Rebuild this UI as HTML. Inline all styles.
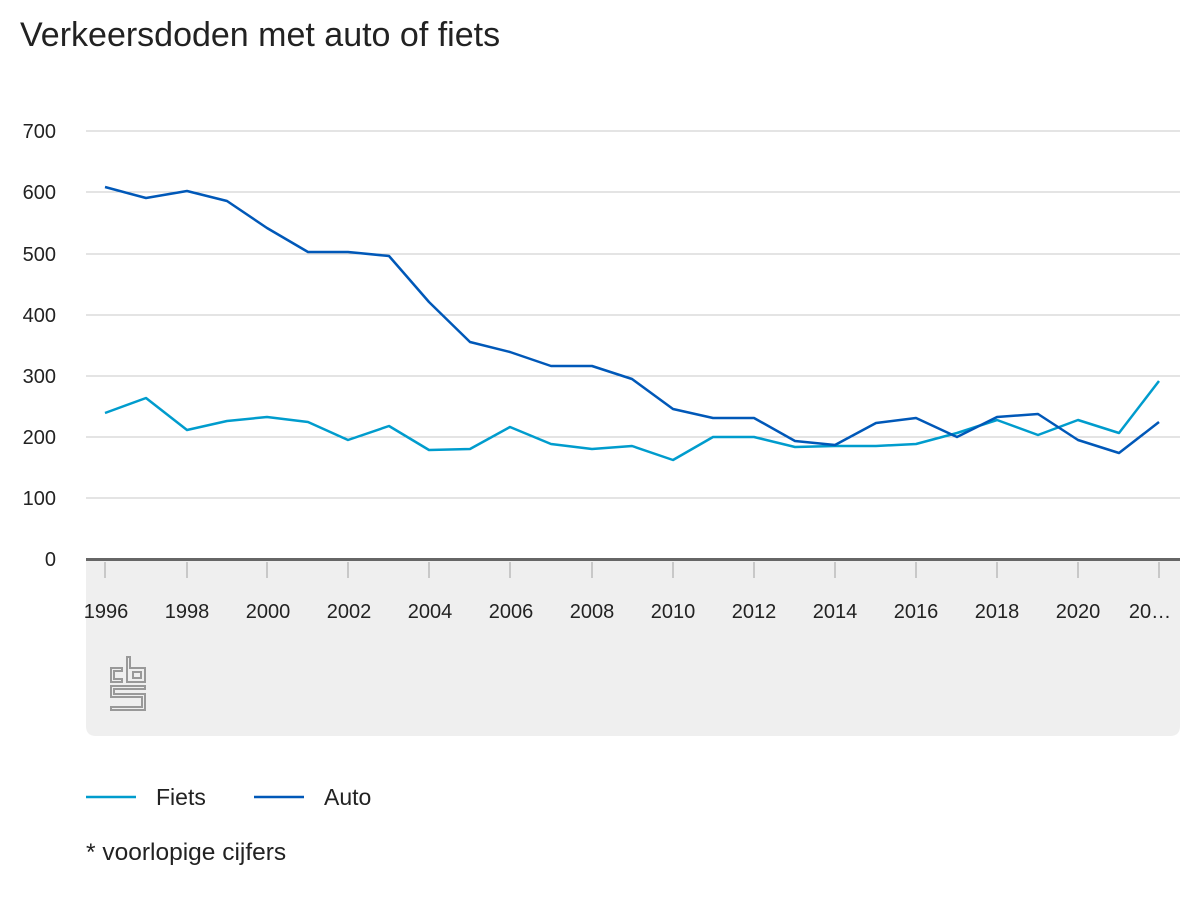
<!DOCTYPE html>
<html><head><style>
body{margin:0;background:#fff;font-family:"Liberation Sans",sans-serif;}
</style></head><body>
<svg width="1200" height="900" xmlns="http://www.w3.org/2000/svg" font-family="Liberation Sans, sans-serif">
<text x="20" y="46" font-size="34" fill="#222">Verkeersdoden met auto of fiets</text>
<path d="M86 560 H1180 V726 Q1180 736 1170 736 H96 Q86 736 86 726 Z" fill="#efefef"/>
<g stroke="#c8c8c8" stroke-width="1">
<line x1="86" x2="1180" y1="131" y2="131"/><line x1="86" x2="1180" y1="192" y2="192"/>
<line x1="86" x2="1180" y1="254" y2="254"/><line x1="86" x2="1180" y1="315" y2="315"/>
<line x1="86" x2="1180" y1="376" y2="376"/><line x1="86" x2="1180" y1="437" y2="437"/>
<line x1="86" x2="1180" y1="498" y2="498"/>
</g>
<g font-size="20" fill="#222" text-anchor="end">
<text x="56" y="138">700</text><text x="56" y="199">600</text><text x="56" y="261">500</text>
<text x="56" y="322">400</text><text x="56" y="383">300</text><text x="56" y="444">200</text>
<text x="56" y="505">100</text><text x="56" y="566">0</text>
</g>
<g stroke="#c8c8c8" stroke-width="2">
<line x1="105" x2="105" y1="562" y2="578"/><line x1="187" x2="187" y1="562" y2="578"/>
<line x1="267" x2="267" y1="562" y2="578"/><line x1="348" x2="348" y1="562" y2="578"/>
<line x1="429" x2="429" y1="562" y2="578"/><line x1="510" x2="510" y1="562" y2="578"/>
<line x1="592" x2="592" y1="562" y2="578"/><line x1="673" x2="673" y1="562" y2="578"/>
<line x1="754" x2="754" y1="562" y2="578"/><line x1="835" x2="835" y1="562" y2="578"/>
<line x1="916" x2="916" y1="562" y2="578"/><line x1="997" x2="997" y1="562" y2="578"/>
<line x1="1078" x2="1078" y1="562" y2="578"/><line x1="1159" x2="1159" y1="562" y2="578"/>
</g>
<line x1="86" x2="1180" y1="559.5" y2="559.5" stroke="#666" stroke-width="3"/>
<g font-size="20" fill="#222" text-anchor="middle">
<text x="106" y="618">1996</text><text x="187" y="618">1998</text><text x="268" y="618">2000</text>
<text x="349" y="618">2002</text><text x="430" y="618">2004</text><text x="511" y="618">2006</text>
<text x="592" y="618">2008</text><text x="673" y="618">2010</text><text x="754" y="618">2012</text>
<text x="835" y="618">2014</text><text x="916" y="618">2016</text><text x="997" y="618">2018</text>
<text x="1078" y="618">2020</text><text x="1150" y="618">20…</text>
</g>
<g fill="none" stroke="#999" stroke-width="2">
<path d="M111 668 H122 V671 H114 V679 H122 V682 H111 Z"/>
<path d="M127 657 H130 V668 H145 V682 H127 Z M133 672 V678 H141 V672 Z"/>
<path d="M111 686 H145 V689 H114 V694 H145 V710 H111 V707 H142 V697 H111 Z"/>
</g>
<polyline fill="none" stroke="#009ccd" stroke-width="2.5" stroke-linejoin="round" points="105,413 146,398 187,430 227,421 267,417 308,422 348,440 389,426 429,450 470,449 510,427 551,444 592,449 632,446 673,460 713,437 754,437 795,447 835,446 876,446 916,444 957,433 997,420 1038,435 1078,420 1119,433 1159,381"/>
<polyline fill="none" stroke="#0058b8" stroke-width="2.5" stroke-linejoin="round" points="105,187 146,198 187,191 227,201 267,228 308,252 348,252 389,256 429,302 470,342 510,352 551,366 592,366 632,379 673,409 713,418 754,418 795,441 835,445 876,423 916,418 957,437 997,417 1038,414 1078,440 1119,453 1159,422"/>
<line x1="86" x2="136" y1="797" y2="797" stroke="#009ccd" stroke-width="2.5"/>
<text x="156" y="805" font-size="23" fill="#222">Fiets</text>
<line x1="254" x2="304" y1="797" y2="797" stroke="#0058b8" stroke-width="2.5"/>
<text x="324" y="805" font-size="23" fill="#222">Auto</text>
<text x="86" y="860" font-size="24.5" fill="#222">* voorlopige cijfers</text>
</svg>
</body></html>
